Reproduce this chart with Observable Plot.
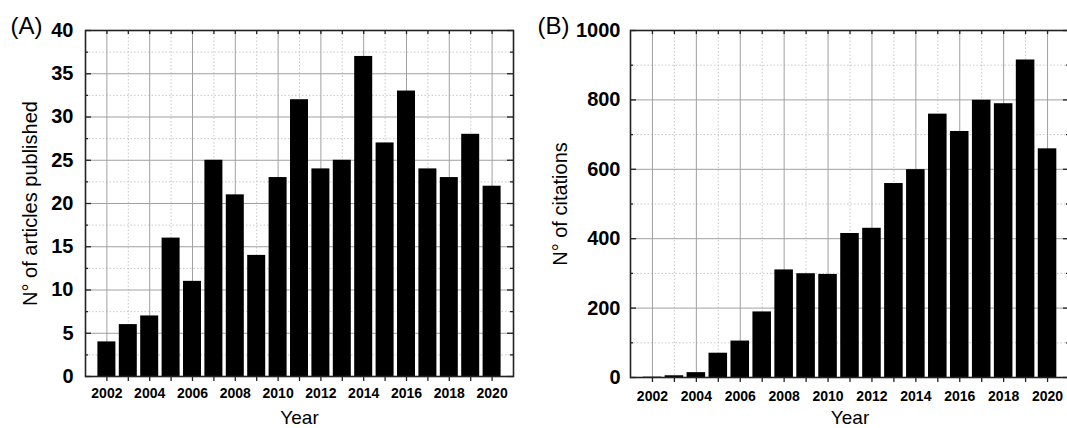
<!DOCTYPE html>
<html><head><meta charset="utf-8">
<script src="https://cdn.jsdelivr.net/npm/d3@7"></script>
<script src="https://cdn.jsdelivr.net/npm/@observablehq/plot@0.6"></script>
<style>
html,body{margin:0;padding:0;background:#fff;overflow:hidden}
#wrap{position:relative;width:1067px;height:428px;overflow:hidden}
#wrap svg{position:absolute;top:0;overflow:visible}
</style></head><body><div id="wrap"></div>
<script>
const years = [2002,2003,2004,2005,2006,2007,2008,2009,2010,2011,2012,2013,2014,2015,2016,2017,2018,2019,2020];
const articles = [4,6,7,16,11,25,21,14,23,32,24,25,37,27,33,24,23,28,22];
const citations = [1,5,14,70,105,189,310,299,297,415,430,559,599,759,709,799,789,915,659];
const yearMajor = [2002,2004,2006,2008,2010,2012,2014,2016,2018,2020];
const yearMinor = [2003,2005,2007,2009,2011,2013,2015,2017,2019];
const articleTicks = [0,5,10,15,20,25,30,35,40];
const articleMinor = [2.5,7.5,12.5,17.5,22.5,27.5,32.5,37.5];
const citationTicks = [0,200,400,600,800,1000];
const citationMinor = [100,300,500,700,900];

const FONT = "Liberation Sans, Arial, Helvetica, sans-serif";

function panel(cfg) {
  const {values, yDomain, yMajor, yMinor, letter, letterDx, yTitle, titleDx, yearDy, labelPad, xLabelPad,
         left, width, height, marginLeft, marginRight, marginTop, marginBottom} = cfg;
  const fw = width - marginLeft - marginRight;
  const fh = height - marginTop - marginBottom;
  const data = years.map((year, i) => ({year, value: values[i]}));
  const svg = Plot.plot({
    width, height, marginLeft, marginRight, marginTop, marginBottom,
    style: {fontFamily: FONT, color: "#000", background: "transparent"},
    x: {domain: [2001, 2021]},
    y: {domain: yDomain},
    marks: [
      Plot.gridX(yearMinor, {stroke: "#c8c8c8", strokeOpacity: 1, strokeDasharray: "1.5,2"}),
      Plot.gridY(yMinor, {stroke: "#c8c8c8", strokeOpacity: 1, strokeDasharray: "1.5,2"}),
      Plot.gridX(yearMajor, {stroke: "#a0a0a0", strokeOpacity: 1}),
      Plot.gridY(yMajor, {stroke: "#a0a0a0", strokeOpacity: 1}),
      Plot.rectY(data, {x1: d => d.year - 0.5, x2: d => d.year + 0.5, y1: 0, y2: "value", insetLeft: 1.7, insetRight: 1.7, fill: "#000"}),
      Plot.tickX(years, {x: d => d, insetBottom: fh - 4, stroke: "#222", strokeWidth: 1.3}),
      Plot.tickY(yMajor, {y: d => d, insetRight: fw - 6, stroke: "#222", strokeWidth: 1.3}),
      Plot.tickY(yMinor, {y: d => d, insetRight: fw - 3, stroke: "#222", strokeWidth: 1.3}),
      Plot.tickY(yMajor, {y: d => d, insetLeft: fw - 6, stroke: "#222", strokeWidth: 1.3}),
      Plot.tickY(yMinor, {y: d => d, insetLeft: fw - 3, stroke: "#222", strokeWidth: 1.3}),
      Plot.axisX({ticks: years, tickSize: 5, tickFormat: () => "", label: null, stroke: "#222", strokeWidth: 1.3}),
      Plot.axisX({ticks: yearMajor, tickSize: 0, tickPadding: xLabelPad, tickFormat: d => String(d), label: null,
                  fontSize: 14, fontWeight: "bold", fill: "#000"}),
      Plot.axisY({ticks: yMajor, tickSize: 0, tickPadding: labelPad, tickFormat: d => String(d), label: null,
                  fontSize: 20, fontWeight: "bold", fill: "#000"}),
      Plot.frame({stroke: "#222", strokeWidth: 1.6}),
      Plot.text([yTitle], {frameAnchor: "left", dx: titleDx, rotate: -90, textAnchor: "middle", lineAnchor: "middle",
                  fontSize: 20, fill: "#000"}),
      Plot.text(["Year"], {frameAnchor: "bottom", dy: yearDy, textAnchor: "middle", lineAnchor: "bottom",
                  fontSize: 19, fill: "#000"}),
      Plot.text([letter], {frameAnchor: "top-left", dx: letterDx, dy: 3, textAnchor: "start", lineAnchor: "bottom",
                  fontSize: 24, fill: "#000"})
    ]
  });
  svg.style.left = left + "px";
  document.getElementById("wrap").appendChild(svg);
}

panel({values: articles, yDomain: [0, 40], yMajor: articleTicks, yMinor: articleMinor,
  letter: "(A)", letterDx: -75, yTitle: "N° of articles published", titleDx: -55, yearDy: 47,
  labelPad: 12, xLabelPad: 12,
  left: 0, width: 530, height: 428, marginLeft: 85, marginRight: 17, marginTop: 30, marginBottom: 52});

panel({values: citations, yDomain: [0, 1000], yMajor: citationTicks, yMinor: citationMinor,
  letter: "(B)", letterDx: -93, yTitle: "N° of citations", titleDx: -70, yearDy: 46,
  labelPad: 10, xLabelPad: 14,
  left: 530, width: 539, height: 428, marginLeft: 100, marginRight: 0, marginTop: 30, marginBottom: 51});
</script>
</body></html>
